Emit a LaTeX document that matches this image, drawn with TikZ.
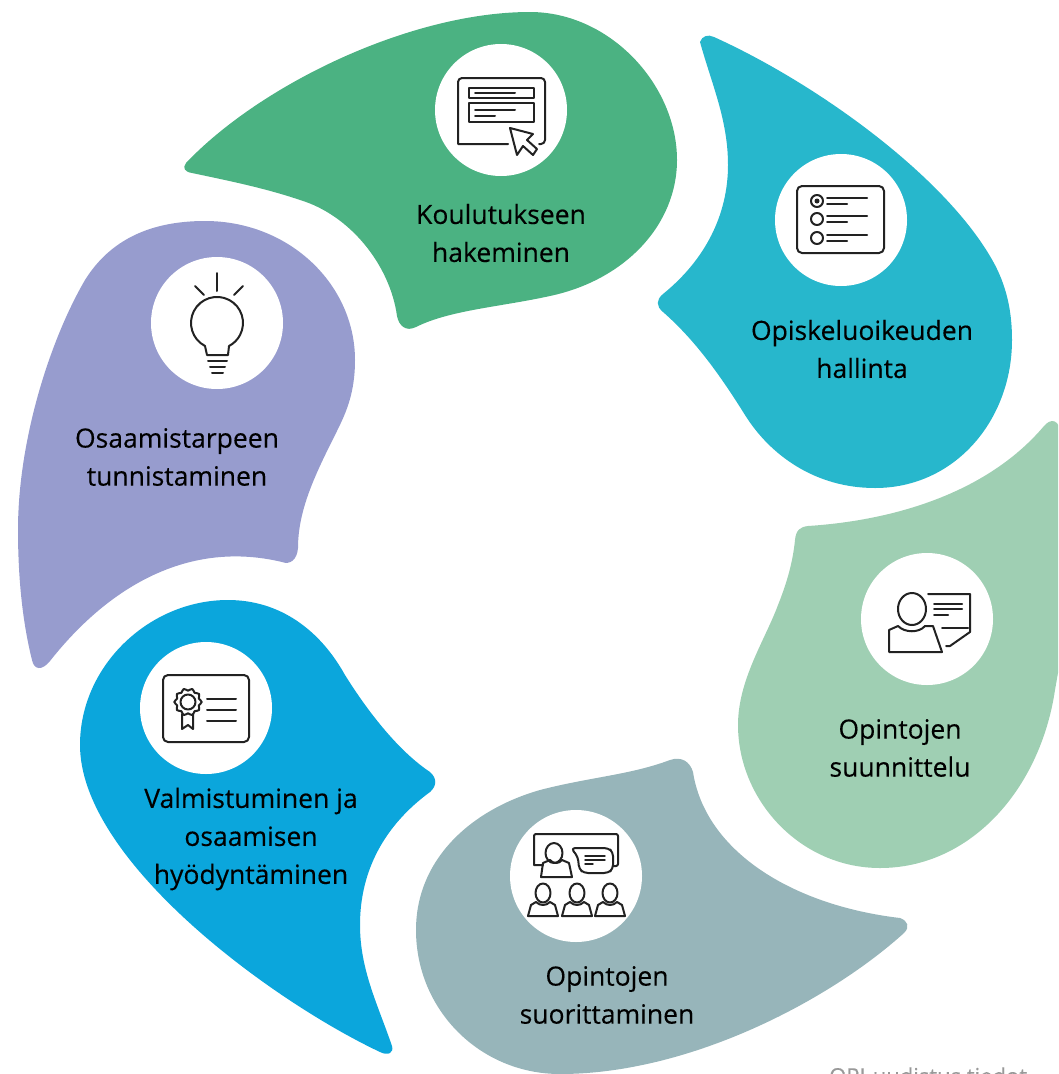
\documentclass[tikz,border=0pt]{standalone}
\usepackage{fontspec}
\setmainfont[FakeBold=0.25]{Open Sans}
\usepackage{tikz}
\usetikzlibrary{calc,positioning}
\definecolor{grn}{HTML}{4BB282}
\definecolor{teal}{HTML}{27B7CC}
\definecolor{mint}{HTML}{9FCFB3}
\definecolor{slate}{HTML}{97B5BA}
\definecolor{sky}{HTML}{0BA6DC}
\definecolor{lav}{HTML}{979CCE}
\definecolor{ink}{HTML}{222222}
\begin{document}
\begin{tikzpicture}[x=1pt,y=-1pt,
  disc/.style={circle, fill=white, minimum size=132pt, inner sep=0pt},
  lbl/.style={align=center, font=\fontsize{26.5}{38}\selectfont, text=black, inner sep=0pt},
  ico/.style={draw=ink, line width=2pt, line join=round, line cap=round}]
\useasboundingbox (0,0) rectangle (1058,1074);
\begin{scope}
\clip (0,0) rectangle (1058,1074);
% petals
\fill[grn] (186,163) .. controls (260,85) and (410,12) .. (530,12) .. controls (610,12) and (677,85) .. (677,160) .. controls (677,225) and (625,280) .. (550,296) .. controls (500,307) and (450,310) .. (416,327) .. controls (406,332) and (399,326) .. (397,316) .. controls (390,265) and (350,215) .. (300,200) .. controls (265,188) and (225,180) .. (192,173) .. controls (185,172) and (182,168) .. (186,163) -- cycle;
\fill[teal] (700,42) .. controls (702,36) and (708,34) .. (714,37) .. controls (820,85) and (950,180) .. (995,265) .. controls (1008,290) and (1012,315) .. (1012,340) .. controls (1012,420) and (955,488) .. (875,488) .. controls (815,488) and (770,455) .. (745,415) .. controls (720,375) and (695,340) .. (663,312) .. controls (656,306) and (656,300) .. (663,294) .. controls (705,260) and (728,215) .. (728,165) .. controls (728,120) and (712,85) .. (700,42) -- cycle;
\fill[mint] (1044,426) .. controls (1050,419) and (1060,416) .. (1062,440) -- (1062,650) -- (1055,690) .. controls (1040,790) and (970,868) .. (880,868) .. controls (800,868) and (738,800) .. (738,725) .. controls (738,680) and (765,640) .. (778,605) .. controls (788,580) and (793,560) .. (795,540) .. controls (796,530) and (800,527) .. (808,526) .. controls (900,520) and (990,490) .. (1044,426) -- cycle;
\fill[slate] (900,918) .. controls (908,921) and (910,927) .. (904,933) .. controls (830,1000) and (690,1074) .. (560,1074) .. controls (480,1074) and (416,1010) .. (416,930) .. controls (416,860) and (470,810) .. (540,790) .. controls (590,777) and (630,775) .. (670,760) .. controls (682,756) and (690,762) .. (693,772) .. controls (705,850) and (790,905) .. (900,918) -- cycle;
\fill[sky] (392,1046) .. controls (394,1053) and (388,1056) .. (380,1052) .. controls (270,1000) and (80,860) .. (80,745) .. controls (80,665) and (150,600) .. (228,600) .. controls (280,600) and (320,630) .. (345,675) .. controls (370,715) and (400,752) .. (430,772) .. controls (437,778) and (437,786) .. (430,792) .. controls (385,825) and (360,870) .. (360,925) .. controls (360,970) and (378,1005) .. (392,1046) -- cycle;
\fill[lav] (50,661) .. controls (42,671) and (34,670) .. (32,660) .. controls (22,620) and (18,575) .. (18,530) .. controls (18,440) and (50,340) .. (85,280) .. controls (110,240) and (150,221) .. (205,221) .. controls (290,221) and (355,285) .. (355,360) .. controls (355,395) and (345,415) .. (335,435) .. controls (315,475) and (298,510) .. (298,548) .. controls (297,560) and (290,565) .. (282,562) .. controls (190,540) and (110,585) .. (50,661) -- cycle;
% discs
\node[disc] (apply) at (501,110) {};
\node[disc] (right) at (841,220) {};
\node[disc] (plan) at (927,619) {};
\node[disc] (study) at (576,876) {};
\node[disc] (grad) at (206,708) {};
\node[disc] (need) at (217,323) {};
% labels
\node[lbl] (applytxt) at (501,233) {Koulutukseen\\hakeminen};
\node[lbl] (righttxt) at (862,349) {Opiskeluoikeuden\\hallinta};
\node[lbl] (plantxt) at (900,748) {Opintojen\\suunnittelu};
\node[lbl] (studytxt) at (607,995) {Opintojen\\suorittaminen};
\node[lbl] (gradtxt) at (251,839) {Valmistuminen ja\\osaamisen\\hyödyntäminen};
\node[lbl] (needtxt) at (177,457) {Osaamistarpeen\\tunnistaminen};
\node[anchor=base west, inner sep=0pt, font=\fontsize{22}{26}\selectfont, text=black!40] (source) at (829,1084) {OPI-uudistus tiedot};
% form icon
\draw[ico] (508,144) -- (458,144) [rounded corners=4pt] -- (458,78) -- (545,78) -- (545,144) -- (539,144);
\draw[ico] (469,88) rectangle (534,98);
\draw[ico] (469,103) rectangle (534,122);
\foreach \a/\b/\y in {475/515/93,475/515/110,475/495/116}{\draw[ico] (\a,\y) -- (\b,\y);}
\draw[ico] (510,128) -- (533,134) -- (527,140) -- (537,149) -- (533,155) -- (523,146) -- (517,155) -- cycle;
% radio icon
\draw[ico, rounded corners=5pt] (797,186) rectangle (884,253);
\foreach \y in {201,219,238}{
  \draw[ico] (817,\y) circle[radius=6];
  \draw[ico] (827,\y-3) -- (867,\y-3);
  \draw[ico] (827,\y+3) -- (847,\y+3);
}
\fill[ink] (817,201) circle[radius=2.5];
% person with note icon
\draw[ico] (912,609) ellipse[x radius=14, y radius=16];
\draw[ico] (889,652) -- (889,630) -- (898,626) .. controls (905,633) and (919,633) .. (925,626) -- (933,626) -- (942,652) -- cycle;
\draw[ico] (928,594) -- (970,594) -- (970,632) -- (950,646) -- (946,646);
\draw[ico] (942,628) -- (968,628);
\foreach \b/\y in {962/604,962/609,948/615}{\draw[ico] (934,\y) -- (\b,\y);}
% classroom icon
\draw[ico] (543,865) -- (534,865) [rounded corners=2pt] -- (534,834) -- (618,834) -- (618,866) -- (613,866);
\draw[ico] (554,853) ellipse[x radius=8.5, y radius=10];
\draw[ico] (541,877) -- (543,863) -- (550,860) .. controls (553,864) and (559,864) .. (562,860) -- (569,863) -- (572,877) -- cycle;
\draw[ico, rounded corners=4pt] (571,848) -- (608,848) -- (613,852) -- (613,869) -- (608,873) -- (584,873) -- (579,869) -- (578,857) -- cycle;
\foreach \b/\y in {605/856,605/860,593/864}{\draw[ico, line width=1.4pt] (585,\y) -- (\b,\y);}
\foreach \x in {543,577,610}{
  \draw[ico] (\x,893) ellipse[x radius=7.5, y radius=9.5];
  \draw[ico] (\x-15,916) -- (\x-12,905) -- (\x-7,902) .. controls (\x-3,906) and (\x+3,906) .. (\x+7,902) -- (\x+12,905) -- (\x+15,916) -- cycle;
}
% diploma icon
\draw[ico] plot[domain=0:351, samples=40, smooth cycle] ({188+(12.5+1.2*cos(10*\x))*cos(\x)},{702+(12.5+1.2*cos(10*\x))*sin(\x)});
\draw[ico, rounded corners=5pt] (163,675) rectangle (249,742);
\draw[ico] (188,702) circle[radius=7.5];
\draw[ico] (182,714) -- (182,729) -- (188,725) -- (193,729) -- (193,714);
\foreach \y in {699,710,721}{\draw[ico] (207,\y) -- (236,\y);}
% bulb icon
\foreach \a/\b/\c/\d in {217/273/217/291,195/286/204/295,243/286/234/295}{\draw[ico] (\a,\b) -- (\c,\d);}
\draw[ico] (207,355) -- (205,346) arc[start angle=117.5, end angle=422.5, radius=26] -- (228,355) -- cycle;
\foreach \a/\b/\y in {208/227/361,210/225/367,212/223/373}{\draw[ico] (\a,\y) -- (\b,\y);}
\end{scope}
\end{tikzpicture}
\end{document}
